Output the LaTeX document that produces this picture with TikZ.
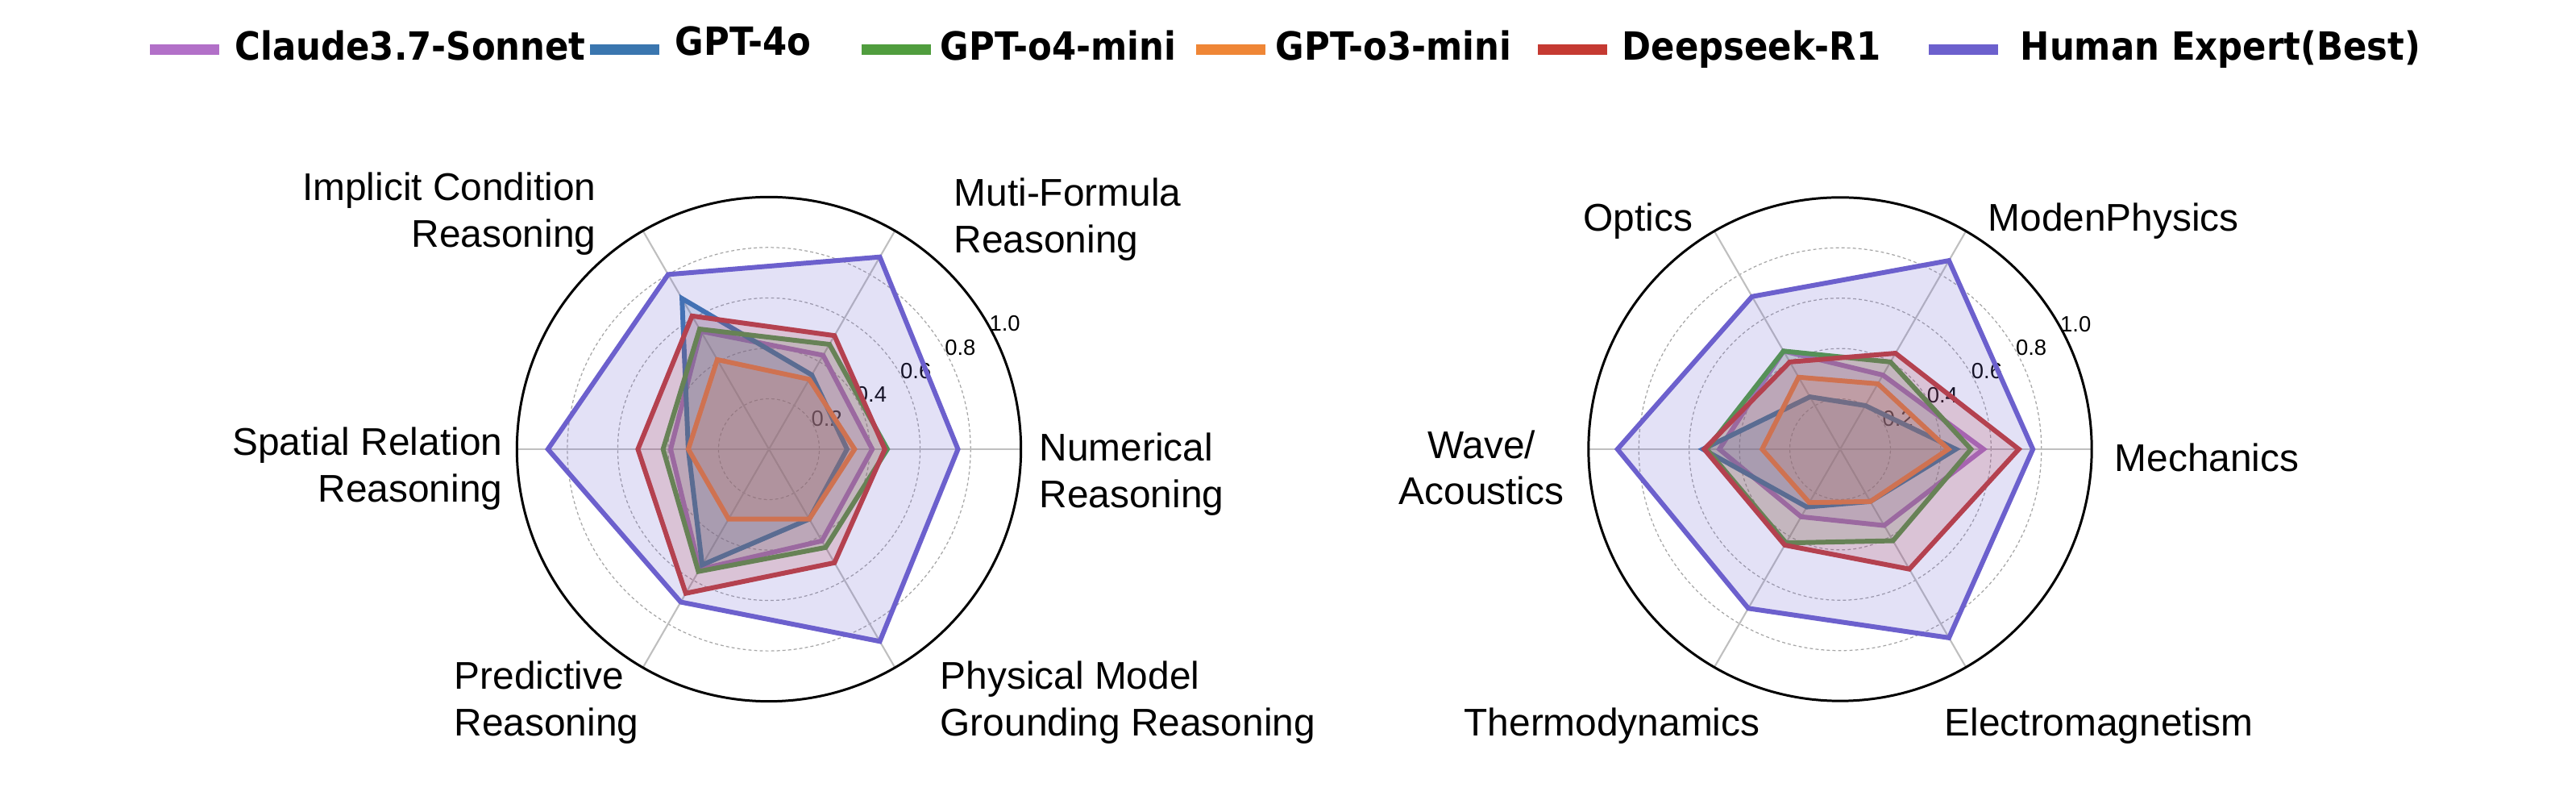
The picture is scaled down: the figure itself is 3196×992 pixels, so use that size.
\documentclass[tikz,border=0pt]{standalone}
\usepackage{fontspec}
\setmainfont{Liberation Sans}
\newfontfamily\legfont[FakeStretch=0.9]{DejaVu Sans}
\usepackage{xcolor}

\definecolor{claudecol}{RGB}{178,112,200}
\definecolor{fourocol}{RGB}{58,118,175}
\definecolor{ofourcol}{RGB}{80,157,62}
\definecolor{othreecol}{RGB}{239,134,54}
\definecolor{deepcol}{RGB}{197,58,50}
\definecolor{humancol}{RGB}{108,96,205}

\tikzstyle{ring} = [draw=gray!70, dash pattern=on 1.1pt off 0.9pt, line width=0.35pt]
\tikzstyle{spoke} = [draw=gray!50, line width=0.6pt]
\tikzstyle{rim} = [draw=black, line width=0.85pt]
\tikzstyle{poly} = [line width=1.7pt, line join=miter, fill opacity=0.19]
\tikzstyle{axlabel} = [inner sep=0pt, font=\fontsize{13.6}{16.4}\selectfont]
\tikzstyle{ticklabel} = [inner sep=0pt, font=\fontsize{7.8}{9}\selectfont]
\tikzstyle{legtext} = [inner sep=0pt, anchor=base west, font=\legfont\bfseries\fontsize{13.7}{15}\selectfont]
\tikzstyle{swatch} = [inner sep=0pt, minimum width=0.86cm, minimum height=0.13cm]

\newcommand{\radargrid}[1]{%
  \foreach \r in {0.2,0.4,0.6,0.8} \draw[ring] (0,0) circle (\r);
  \foreach \a in {0,60,...,300} \draw[spoke] (0,0) -- (\a:1);
  \draw[rim] (0,0) circle (1);
  \foreach \r [count=\k] in {0.2,0.4,0.6,0.8,1.0}
    \node[ticklabel] (#1-t\k) at (28:{\r+0.06}) {\r};
}

\begin{document}
\begin{tikzpicture}[x=0.01cm,y=-0.01cm]
  \useasboundingbox (0,0) rectangle (3196,992);

  \node[swatch,fill=claudecol] (sw1) at (229,62) {};
  \node[legtext] (lg1) at (291,75) {Claude3.7-Sonnet};
  \node[swatch,fill=fourocol] (sw2) at (775,62) {};
  \node[legtext] (lg2) at (837,69) {GPT-4o};
  \node[swatch,fill=ofourcol] (sw3) at (1112,62) {};
  \node[legtext] (lg3) at (1166,75) {GPT-o4-mini};
  \node[swatch,fill=othreecol] (sw4) at (1527,62) {};
  \node[legtext] (lg4) at (1582,75) {GPT-o3-mini};
  \node[swatch,fill=deepcol] (sw5) at (1951,62) {};
  \node[legtext] (lg5) at (2012,75) {Deepseek-R1};
  \node[swatch,fill=humancol] (sw6) at (2436,62) {};
  \node[legtext] (lg6) at (2506,75) {Human Expert(Best)};

  \begin{scope}[shift={(954,557)},x=3.125cm,y=3.125cm]
    \radargrid{a}
    \draw[poly,draw=claudecol,fill=claudecol] (0:0.41) -- (60:0.43) -- (120:0.54) -- (180:0.39) -- (240:0.55) -- (300:0.42) -- cycle;
    \draw[poly,draw=fourocol,fill=fourocol] (0:0.31) -- (60:0.34) -- (120:0.69) -- (180:0.32) -- (240:0.53) -- (300:0.32) -- cycle;
    \draw[poly,draw=ofourcol,fill=ofourcol] (0:0.47) -- (60:0.48) -- (120:0.55) -- (180:0.42) -- (240:0.56) -- (300:0.45) -- cycle;
    \draw[poly,draw=othreecol,fill=othreecol] (0:0.34) -- (60:0.32) -- (120:0.41) -- (180:0.32) -- (240:0.32) -- (300:0.32) -- cycle;
    \draw[poly,draw=deepcol,fill=deepcol] (0:0.46) -- (60:0.52) -- (120:0.61) -- (180:0.52) -- (240:0.66) -- (300:0.52) -- cycle;
    \draw[poly,draw=humancol,fill=humancol] (0:0.75) -- (60:0.88) -- (120:0.80) -- (180:0.877) -- (240:0.70) -- (300:0.88) -- cycle;
  \end{scope}

  \node[axlabel,align=right,anchor=east] (impl) at (740,265) {Implicit Condition\\Reasoning};
  \node[axlabel,align=left,anchor=west] (muti) at (1183,272) {Muti-Formula\\Reasoning};
  \node[axlabel,align=right,anchor=east] (spat) at (624,581) {Spatial Relation\\Reasoning};
  \node[axlabel,align=left,anchor=west] (numr) at (1289,588) {Numerical\\Reasoning};
  \node[axlabel,align=left,anchor=west] (pred) at (563,871) {Predictive\\Reasoning};
  \node[axlabel,align=left,anchor=west] (phys) at (1166,871) {Physical Model\\Grounding Reasoning};

  \begin{scope}[shift={(2283,557)},x=3.12cm,y=3.12cm]
    \radargrid{b}
    \draw[poly,draw=claudecol,fill=claudecol] (0:0.57) -- (60:0.34) -- (120:0.45) -- (180:0.48) -- (240:0.31) -- (300:0.35) -- cycle;
    \draw[poly,draw=fourocol,fill=fourocol] (0:0.46) -- (60:0.20) -- (120:0.24) -- (180:0.545) -- (240:0.265) -- (300:0.24) -- cycle;
    \draw[poly,draw=ofourcol,fill=ofourcol] (0:0.52) -- (60:0.40) -- (120:0.45) -- (180:0.53) -- (240:0.43) -- (300:0.42) -- cycle;
    \draw[poly,draw=othreecol,fill=othreecol] (0:0.43) -- (60:0.30) -- (120:0.33) -- (180:0.31) -- (240:0.245) -- (300:0.24) -- cycle;
    \draw[poly,draw=deepcol,fill=deepcol] (0:0.71) -- (60:0.44) -- (120:0.40) -- (180:0.54) -- (240:0.44) -- (300:0.55) -- cycle;
    \draw[poly,draw=humancol,fill=humancol] (0:0.766) -- (60:0.865) -- (120:0.70) -- (180:0.885) -- (240:0.73) -- (300:0.865) -- cycle;
  \end{scope}

  \node[axlabel,anchor=west] (optc) at (1964,274) {Optics};
  \node[axlabel,anchor=west] (modn) at (2466,274) {ModenPhysics};
  \node[axlabel,align=center] (wave) at (1838,580) {Wave/\\Acoustics};
  \node[axlabel,anchor=west] (mech) at (2623,567) {Mechanics};
  \node[axlabel] (thrm) at (2000,900) {Thermodynamics};
  \node[axlabel,anchor=west] (elec) at (2412,900) {Electromagnetism};
\end{tikzpicture}
\end{document}
